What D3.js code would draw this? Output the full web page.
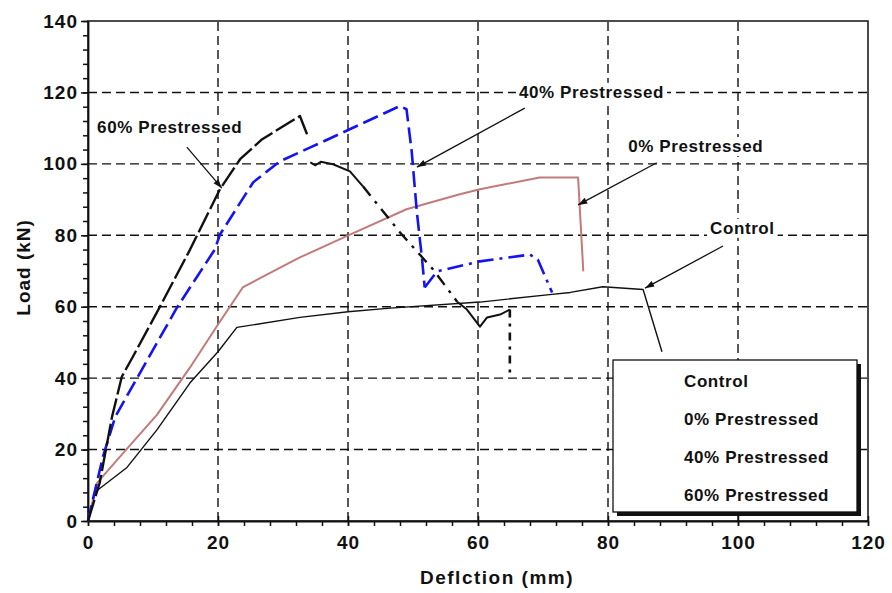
<!DOCTYPE html>
<html>
<head>
<meta charset="utf-8">
<script src="https://cdn.jsdelivr.net/npm/d3@7"></script>
<style>
  body { margin: 0; background: #fff; }
  text { font-family: "Liberation Sans", Arial, sans-serif; font-weight: bold; fill: #111; }
</style>
</head>
<body>
<div id="viz"></div>
<script>
// ---- data (deflection mm, load kN) ----
let ctrl_x = [0, 1.1, 6, 10.6, 15.7, 20, 22.9, 32.6, 40, 46.5, 60.3, 71, 74.2, 79.2, 85.4, 88.3];
let ctrl_y = [0, 8.1, 15, 25.5, 38.7, 47.4, 54.2, 57, 58.6, 59.6, 61.3, 63.4, 64, 65.6, 64.8, 47.4];

let zero_x = [0, 1.4, 5.4, 10.6, 15.7, 20, 23.8, 27.5, 32.6, 40.3, 49, 57.2, 60.3, 69.5, 75.4, 76.2];
let zero_y = [0, 10.7, 19, 29.7, 43, 55, 65.4, 69, 73.8, 80.2, 87.3, 91.5, 92.9, 96.2, 96.2, 69.9];

let forty_a_x = [0, 0.8, 2.3, 4.2, 7.2, 13.7, 19.5, 20.3, 25.4, 29.5, 34.2, 37.2, 48, 49, 49.8, 50.6, 51.4, 51.8];
let forty_a_y = [0, 6.4, 18, 29.2, 38.9, 59.8, 76, 80.2, 94.8, 100.7, 104.6, 107.1, 116.2, 115.3, 103.5, 86.4, 73.2, 65.4];
let forty_b_x = [51.8, 53.7, 60.3, 68, 69.2, 71.4];
let forty_b_y = [65.4, 69.9, 72.7, 74.6, 73.2, 64];

let sixty_a_x = [0, 1.8, 3.7, 5.2, 6.9, 10.6, 15.7, 20.3, 23.4, 26.8, 32.6, 33.7];
let sixty_a_y = [0, 10.7, 29.2, 40.4, 46, 58.4, 76, 92.9, 101.3, 106.9, 113.4, 108.3];
let sixty_b_x = [34.2, 35, 35.8, 37.7, 40.3, 42.3];
let sixty_b_y = [100.4, 99.6, 100.6, 99.9, 97.9, 93.7];
let sixty_c_x = [42.3, 48, 53.1, 56.8];
let sixty_c_y = [93.7, 80.8, 70.4, 61.4];
let sixty_d_x = [56.8, 58.3, 60.3, 61.4, 63.4, 64.9];
let sixty_d_y = [61.4, 59.2, 54.4, 57, 57.8, 59.2];
let sixty_e_x = [64.9, 64.9];
let sixty_e_y = [59.2, 40.4];

let x_ticks = [0, 20, 40, 60, 80, 100, 120];
let y_ticks = [0, 20, 40, 60, 80, 100, 120, 140];
let legend_names = ["Control", "0% Prestressed", "40% Prestressed", "60% Prestressed"];

// label text, label position, arrow start, arrow end (data units)
let note_text = ["60% Prestressed", "40% Prestressed", "0% Prestressed", "Control"];
let note_pos = [[1.4, 108.6], [66.3, 118.5], [83.1, 103.3], [95.7, 80.4]];
let note_from = [[15.2, 104.7], [67.2, 115.6], [87.5, 100.3], [97.7, 77]];
let note_to = [[20.6, 93.2], [50.6, 99.1], [75.4, 88.5], [85.7, 65.2]];

// ---- drawing ----
let W = 892, H = 593;
let svg = d3.select("#viz").append("svg").attr("width", W).attr("height", H);

let x = d3.scaleLinear().domain([0, 120]).range([88, 868]);
let y = d3.scaleLinear().domain([0, 140]).range([521, 21]);

// grid
let grid = svg.append("g").attr("stroke", "#111").attr("stroke-width", 1.4).attr("stroke-dasharray", "9,5");
grid.selectAll(".vg").data(x_ticks.slice(1, -1)).enter().append("line")
    .attr("x1", d => x(d)).attr("x2", d => x(d)).attr("y1", y(0)).attr("y2", y(140));
grid.selectAll(".hg").data(y_ticks.slice(1, -1)).enter().append("line")
    .attr("x1", x(0)).attr("x2", x(120)).attr("y1", d => y(d)).attr("y2", d => y(d));

// frame
svg.append("rect").attr("x", x(0)).attr("y", y(140))
    .attr("width", x(120) - x(0)).attr("height", y(0) - y(140))
    .attr("fill", "none").attr("stroke", "#111").attr("stroke-width", 1.5);

// axes
let minor = d3.range(0, 121, 4);
let minorY = d3.range(0, 141, 4);
svg.append("g").attr("transform", "translate(0," + y(0) + ")")
    .call(d3.axisBottom(x).tickValues(minor).tickSize(5).tickFormat(""))
    .call(g => g.select(".domain").remove());
let xa = svg.append("g").attr("transform", "translate(0," + y(0) + ")")
    .call(d3.axisBottom(x).tickValues(x_ticks).tickSizeInner(5).tickSizeOuter(0).tickPadding(10));
xa.selectAll(".tick line").attr("y1", -5);
svg.append("g").attr("transform", "translate(" + x(0) + ",0)")
    .call(d3.axisLeft(y).tickValues(minorY).tickSize(5).tickFormat(""))
    .call(g => g.select(".domain").remove());
let ya = svg.append("g").attr("transform", "translate(" + x(0) + ",0)")
    .call(d3.axisLeft(y).tickValues(y_ticks).tickSizeInner(7).tickSizeOuter(0).tickPadding(3));
svg.selectAll(".tick line").attr("stroke", "#111").attr("stroke-width", 1.5);
svg.selectAll(".domain").attr("stroke", "#111").attr("stroke-width", 1.8);
[xa, ya].forEach(function(a){
    a.selectAll("text").style("font-size", "19px").style("font-family", "Liberation Sans, Arial")
        .style("font-weight", "bold").style("letter-spacing", "1px").attr("fill", "#111");
});

svg.append("text").attr("x", 497).attr("y", 584)
    .attr("text-anchor", "middle").style("font-size", "19px").style("letter-spacing", "1.5px")
    .text("Deflction (mm)");
svg.append("text").attr("transform", "translate(30," + y(71) + ") rotate(-90)")
    .attr("text-anchor", "middle").style("font-size", "19px").style("letter-spacing", "1px")
    .text("Load (kN)");

// curves
let line = d3.line().x(d => x(d[0])).y(d => y(d[1]));
let zipped = (xs, ys) => xs.map((v, i) => [v, ys[i]]);
let series = [
    {pts: zipped(ctrl_x, ctrl_y), col: "#111", w: 1.4, dash: null},
    {pts: zipped(zero_x, zero_y), col: "#c27a7a", w: 2, dash: null},
    {pts: zipped(forty_a_x, forty_a_y), col: "#1414f0", w: 2.6, dash: "16,6"},
    {pts: zipped(forty_b_x, forty_b_y), col: "#1414f0", w: 2.6, dash: "16,6,3,6"},
    {pts: zipped(sixty_a_x, sixty_a_y), col: "#111", w: 2.4, dash: "22,4"},
    {pts: zipped(sixty_b_x, sixty_b_y), col: "#111", w: 2, dash: null},
    {pts: zipped(sixty_c_x, sixty_c_y), col: "#111", w: 2.4, dash: "12,7,3,7"},
    {pts: zipped(sixty_d_x, sixty_d_y), col: "#111", w: 2, dash: null},
    {pts: zipped(sixty_e_x, sixty_e_y), col: "#111", w: 2.6, dash: "8,6,3,6"}
];
svg.append("g").selectAll("path").data(series).enter().append("path")
    .attr("d", d => line(d.pts))
    .attr("fill", "none")
    .attr("stroke", d => d.col)
    .attr("stroke-width", d => d.w)
    .attr("stroke-linejoin", "round")
    .attr("stroke-dasharray", d => d.dash);

// annotations
svg.append("defs").append("marker").attr("id", "arr")
    .attr("viewBox", "0 0 10 10").attr("refX", 10).attr("refY", 5)
    .attr("markerWidth", 9).attr("markerHeight", 7).attr("orient", "auto")
    .append("path").attr("d", "M0,1.5L10,5L0,8.5Z").attr("fill", "#111");

let notes = svg.append("g");
note_text.forEach(function(t, i){
    let tx = notes.append("text").attr("x", x(note_pos[i][0])).attr("y", y(note_pos[i][1]))
        .style("font-size", "17px").style("letter-spacing", "0.6px").text(t);
    let bb = tx.node().getBBox();
    notes.insert("rect", "text").attr("x", bb.x - 3).attr("y", bb.y).attr("width", bb.width + 6)
        .attr("height", bb.height).attr("fill", "#fff");
    notes.append("line")
        .attr("x1", x(note_from[i][0])).attr("y1", y(note_from[i][1]))
        .attr("x2", x(note_to[i][0])).attr("y2", y(note_to[i][1]))
        .attr("stroke", "#111").attr("stroke-width", 1.3)
        .attr("marker-end", "url(#arr)");
});

// legend (text only, with drop shadow)
let lg = svg.append("g");
lg.append("rect").attr("x", 617).attr("y", 364).attr("width", 244).attr("height", 152).attr("fill", "#111");
lg.append("rect").attr("x", 613).attr("y", 360).attr("width", 244).attr("height", 152)
    .attr("fill", "#fff").attr("stroke", "#111").attr("stroke-width", 1.3);
lg.selectAll("text").data(legend_names).enter().append("text")
    .attr("x", 684).attr("y", (d, i) => 387 + i * 38)
    .style("font-size", "17px").style("letter-spacing", "0.6px").text(d => d);
</script>
</body>
</html>
